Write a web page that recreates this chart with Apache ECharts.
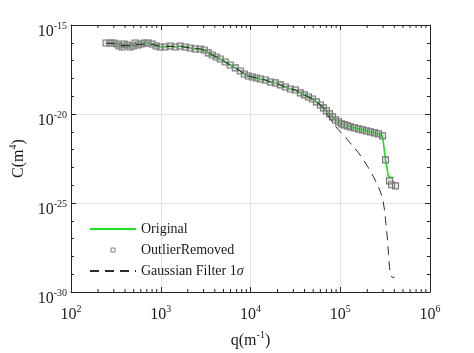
<!DOCTYPE html>
<html>
<head>
<meta charset="utf-8">
<script src="https://cdn.jsdelivr.net/npm/echarts@6/dist/echarts.min.js"></script>
<style>
  html, body { margin: 0; padding: 0; background: #fff; }
  #chart { width: 474px; height: 353px; }
</style>
</head>
<body>
<div id="chart"></div>
<script>
// q (1/m) and C (m^4)
const qCommon = [246, 272, 302, 326, 343, 371, 390, 422, 455, 492,
  518, 559, 604, 653, 723, 802, 889, 985, 1120, 1273,
  1448, 1646, 1872, 2129, 2421, 2753, 3051, 3381, 3747, 4153,
  4602, 5234, 5952, 6768, 7696, 8528, 9450, 10474, 11606, 12865,
  14630, 16635, 18916, 21510, 24460, 27814, 31623, 35960, 39850, 44170,
  48950, 54250, 60120, 64940, 70150, 75770, 81840, 88400, 95480, 103100,
  111400, 120300, 130000, 144000, 159700, 176900, 196100, 217300, 240800, 266900,
  295800];
const cCommon = [9.8e-17, 9.8e-17, 9.8e-17, 8.6e-17, 6.6e-17, 5.8e-17, 8.6e-17, 7.55e-17, 5.8e-17, 6.6e-17,
  9.8e-17, 7.55e-17, 8.6e-17, 9.8e-17, 9.8e-17, 8.6e-17, 6.6e-17, 5.8e-17, 5.8e-17, 6.6e-17,
  5.8e-17, 6.6e-17, 5.8e-17, 5.1e-17, 4.5e-17, 4.5e-17, 3.95e-17, 2.7e-17, 2.07e-17, 1.6e-17,
  1.24e-17, 8.4e-18, 5.7e-18, 3.9e-18, 2.6e-18, 1.78e-18, 1.37e-18, 1.21e-18, 1.06e-18, 9.3e-19,
  8.2e-19, 6.3e-19, 5.6e-19, 4.3e-19, 3.3e-19, 2.56e-19, 2.25e-19, 1.53e-19, 1.18e-19, 9.1e-20,
  7.0e-20, 4.8e-20, 3.2e-20, 2.2e-20, 1.49e-20, 1.01e-20, 6.9e-21, 4.7e-21, 3.6e-21, 2.8e-21,
  2.44e-21, 2.15e-21, 1.89e-21, 1.66e-21, 1.46e-21, 1.28e-21, 1.13e-21, 9.9e-22, 8.7e-22, 7.6e-22,
  5.9e-22];

// tails where the two differ
const qOriginalTail = [319600, 345100, 392500];
const cOriginalTail = [2.65e-23, 2.95e-24, 2.6e-24];
const qOutlierTail = [319600, 354100, 372800, 413100];
const cOutlierTail = [2.65e-23, 1.76e-24, 1.05e-24, 9.2e-25];

const qGauss = [246, 302, 371, 455, 559, 653, 802, 985, 1273, 1646,
  2129, 2753, 3381, 3747, 4153, 4602, 5234, 5952, 6768, 7696,
  8528, 9450, 10474, 11606, 12865, 14630, 16635, 18916, 21510, 24460,
  27814, 31623, 35960, 39850, 44170, 48950, 54250, 60120, 64940, 70150,
  77730, 86150, 95480, 108600, 123400, 140400, 159700, 181500, 206400, 234700,
  266900, 295800, 311500, 319600, 336400, 345100, 354100, 363300, 382400, 402600];
const cGauss = [9.5e-17, 9e-17, 7e-17, 7e-17, 8e-17, 8.5e-17, 8e-17, 6.5e-17, 6.2e-17, 6.2e-17,
  5.2e-17, 4.5e-17, 3e-17, 2.07e-17, 1.6e-17, 1.24e-17, 8.4e-18, 5.7e-18, 3.9e-18, 2.6e-18,
  1.78e-18, 1.37e-18, 1.21e-18, 1.06e-18, 9.3e-19, 8.2e-19, 6.3e-19, 5.6e-19, 4.3e-19, 3.3e-19,
  2.56e-19, 2.25e-19, 1.53e-19, 1.18e-19, 9.1e-20, 7.0e-20, 4.8e-20, 3.2e-20, 2.2e-20, 1.15e-20,
  5.3e-21, 2.44e-21, 1.28e-21, 6.7e-22, 3.1e-22, 1.43e-22, 6.6e-23, 2.65e-23, 9.4e-24, 2.95e-24,
  8.1e-25, 1.96e-25, 4.1e-26, 1.14e-26, 8.6e-28, 1.24e-28, 2.3e-29, 9.3e-30, 6.3e-30, 7.2e-30];

// axis exponents
const xMinExp = 2, xMaxExp = 6;
const yMinExp = -30, yMaxExp = -15;

const font = 'Liberation Serif';
const ink = '#1a1a1a';

// log10 both coords, axes are linear in exponent
function toLog(qs, cs) {
  return qs.map((q, i) => [Math.log10(q), Math.log10(cs[i])]);
}
const originalData = toLog(qCommon.concat(qOriginalTail), cCommon.concat(cOriginalTail));
const outlierData = toLog(qCommon.concat(qOutlierTail), cCommon.concat(cOutlierTail));
const gaussData = toLog(qGauss, cGauss);

// 2..9 minor ticks on x
let xMinor = [];
for (let d = xMinExp; d < xMaxExp; d++) {
  for (let k = 2; k <= 9; k++) xMinor.push([d + Math.log10(k), yMinExp]);
}

const supRich = {
  b: { fontFamily: font, fontSize: 16, color: ink },
  s: { fontFamily: font, fontSize: 10, color: ink, padding: [0, 0, 11, 0] }
};
function powFmt(v) {
  return '{b|10}{s|' + Math.round(v) + '}';
}

let chart = echarts.init(document.getElementById('chart'));
const option = {
  animation: false,
  grid: { left: 71, top: 25, width: 359, height: 267, containLabel: false, outerBoundsMode: 'none' },
  legend: {
    orient: 'vertical',
    left: 89,
    top: 222,
    padding: 0,
    itemWidth: 46,
    itemHeight: 5,
    itemGap: 7,
    textStyle: {
      fontFamily: font, fontSize: 14, color: ink, lineHeight: 14,
      rich: { i: { fontFamily: font, fontSize: 14, fontStyle: 'italic', color: ink } }
    },
    formatter: function (name) {
      return name === 'Gaussian Filter 1σ' ? 'Gaussian Filter 1{i|σ}' : name;
    },
    data: [
      { name: 'Original', itemStyle: { opacity: 0 } },
      { name: 'OutlierRemoved', itemStyle: { color: 'rgba(0,0,0,0)', borderColor: '#7c7c7c', borderWidth: 1 } },
      { name: 'Gaussian Filter 1σ', itemStyle: { opacity: 0 } }
    ]
  },
  xAxis: [
    {
      type: 'value', min: xMinExp, max: xMaxExp, interval: 1,
      name: 'q(m{s|-1})', nameLocation: 'middle', nameGap: 38,
      nameTextStyle: { fontFamily: font, fontSize: 16, color: ink, rich: supRich },
      axisLine: { lineStyle: { color: '#262626', width: 1 } },
      axisTick: { inside: true, length: 5, lineStyle: { color: '#262626' } },
      axisLabel: { margin: 12, formatter: powFmt, fontFamily: font, fontSize: 16, color: ink, rich: supRich },
      splitLine: { show: true, lineStyle: { color: '#e2e2e2', width: 1 } }
    },
    {
      type: 'value', position: 'top', min: xMinExp, max: xMaxExp, interval: 1,
      axisLine: { lineStyle: { color: '#262626', width: 1 } },
      axisTick: { inside: true, length: 5, lineStyle: { color: '#262626' } },
      axisLabel: { show: false },
      splitLine: { show: false }
    }
  ],
  yAxis: [
    {
      type: 'value', min: yMinExp, max: yMaxExp, interval: 5,
      name: 'C(m{s|4})', nameLocation: 'middle', nameGap: 41, nameRotate: 90,
      nameTextStyle: { fontFamily: font, fontSize: 16, color: ink, rich: supRich },
      axisLine: { lineStyle: { color: '#262626', width: 1 } },
      axisTick: { inside: true, length: 5, lineStyle: { color: '#262626' } },
      minorTick: { show: true, splitNumber: 5, length: 3, lineStyle: { color: '#262626' } },
      axisLabel: { margin: 4, padding: [14, 0, 0, 0], formatter: powFmt, fontFamily: font, fontSize: 16, color: ink, rich: supRich },
      splitLine: { show: true, lineStyle: { color: '#e2e2e2', width: 1 } }
    },
    {
      type: 'value', position: 'right', min: yMinExp, max: yMaxExp, interval: 5,
      axisLine: { show: true, lineStyle: { color: '#262626', width: 1 } },
      axisTick: { show: true, inside: true, length: 5, lineStyle: { color: '#262626' } },
      minorTick: { show: true, splitNumber: 5, length: 3, lineStyle: { color: '#262626' } },
      axisLabel: { show: false },
      splitLine: { show: false }
    }
  ],
  series: [
    {
      name: 'Original',
      type: 'line',
      data: originalData,
      showSymbol: false,
      symbol: 'none',
      lineStyle: { color: '#1ee01e', width: 1.6 },
      itemStyle: { color: '#1ee01e' },
      z: 2
    },
    {
      name: 'OutlierRemoved',
      type: 'line',
      data: outlierData,
      symbol: 'rect',
      symbolSize: 6,
      showSymbol: true,
      lineStyle: { width: 0, opacity: 0 },
      itemStyle: { color: 'rgba(150,165,150,0.25)', borderColor: '#777777', borderWidth: 1.1 },
      z: 3
    },
    {
      name: 'Gaussian Filter 1σ',
      type: 'line',
      data: gaussData,
      symbol: 'none',
      lineStyle: { color: '#2b2b2b', width: 1, type: [9, 6] },
      itemStyle: { color: '#2b2b2b' },
      z: 4
    },
    {
      type: 'custom',
      silent: true,
      clip: false,
      data: xMinor,
      renderItem: function (params, api) {
        const b = api.coord([api.value(0), yMinExp]);
        const t = api.coord([api.value(0), yMaxExp]);
        const st = { stroke: '#262626', lineWidth: 1 };
        return {
          type: 'group',
          children: [
            { type: 'line', shape: { x1: b[0], y1: b[1], x2: b[0], y2: b[1] - 3 }, style: st },
            { type: 'line', shape: { x1: t[0], y1: t[1], x2: t[0], y2: t[1] + 3 }, style: st }
          ]
        };
      },
      z: 5
    }
  ]
};
chart.setOption(option);
</script>
</body>
</html>
